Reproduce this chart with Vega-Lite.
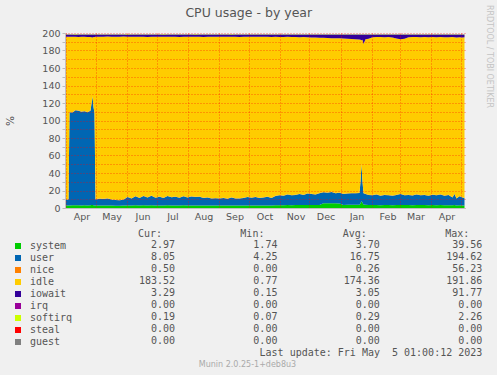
{
"$schema": "https://vega.github.io/schema/vega-lite/v6.json",
"background": "#f0f0f0",
"padding": {"left": 5, "top": 5, "right": 5, "bottom": 6},
"title": {"text": "CPU usage - by year", "font": "DejaVu Sans", "fontSize": 12.5, "fontWeight": "normal", "color": "#555555", "anchor": "middle", "offset": -14},
"config": {"view": {"stroke": null}, "font": "DejaVu Sans"},
"bounds": "flush",
"spacing": 37,
"resolve": {"legend": {"color": "independent"}},
"datasets": {
"cpu": [
{"date":"2022-04-01","system":2.8,"user":6.5,"nice":0.25,"idle":186.25,"iowait":2.5,"softirq":0.3},
{"date":"2022-04-03","system":2.8,"user":7.0,"nice":0.25,"idle":185.75,"iowait":2.5,"softirq":0.3},
{"date":"2022-04-04","system":2.9,"user":6.8,"nice":0.25,"idle":185.75,"iowait":2.6,"softirq":0.3},
{"date":"2022-04-05","system":3.0,"user":106.5,"nice":0.25,"idle":85.95,"iowait":2.6,"softirq":0.3},
{"date":"2022-04-08","system":3.1,"user":106.0,"nice":0.25,"idle":86.25,"iowait":2.7,"softirq":0.3},
{"date":"2022-04-11","system":3.2,"user":108.5,"nice":0.25,"idle":83.75,"iowait":2.6,"softirq":0.5},
{"date":"2022-04-14","system":3.1,"user":108.0,"nice":0.25,"idle":84.15,"iowait":2.8,"softirq":0.3},
{"date":"2022-04-17","system":3.0,"user":107.0,"nice":0.25,"idle":85.45,"iowait":2.6,"softirq":0.3},
{"date":"2022-04-20","system":3.1,"user":107.5,"nice":0.25,"idle":84.75,"iowait":2.7,"softirq":0.3},
{"date":"2022-04-23","system":3.0,"user":106.5,"nice":0.25,"idle":85.65,"iowait":2.9,"softirq":0.3},
{"date":"2022-04-26","system":3.2,"user":108.0,"nice":0.25,"idle":83.85,"iowait":3.0,"softirq":0.3},
{"date":"2022-04-27","system":3.3,"user":116.0,"nice":0.25,"idle":75.55,"iowait":3.2,"softirq":0.3},
{"date":"2022-04-28","system":3.4,"user":124.0,"nice":0.25,"idle":67.25,"iowait":3.4,"softirq":0.3},
{"date":"2022-04-29","system":3.2,"user":112.0,"nice":0.25,"idle":79.85,"iowait":3.0,"softirq":0.3},
{"date":"2022-04-30","system":3.0,"user":106.0,"nice":0.25,"idle":86.25,"iowait":2.8,"softirq":0.3},
{"date":"2022-05-01","system":2.8,"user":7.0,"nice":0.25,"idle":185.65,"iowait":2.6,"softirq":0.3},
{"date":"2022-05-05","system":2.9,"user":7.6,"nice":0.25,"idle":185.05,"iowait":2.5,"softirq":0.3},
{"date":"2022-05-09","system":2.8,"user":7.4,"nice":0.25,"idle":185.25,"iowait":2.6,"softirq":0.3},
{"date":"2022-05-13","system":3.0,"user":7.8,"nice":0.25,"idle":184.85,"iowait":2.4,"softirq":0.3},
{"date":"2022-05-17","system":2.8,"user":6.8,"nice":0.25,"idle":185.75,"iowait":2.7,"softirq":0.3},
{"date":"2022-05-21","system":2.7,"user":6.5,"nice":0.25,"idle":186.35,"iowait":2.5,"softirq":0.3},
{"date":"2022-05-25","system":2.7,"user":6.1,"nice":0.25,"idle":186.65,"iowait":2.6,"softirq":0.3},
{"date":"2022-05-29","system":2.8,"user":6.7,"nice":0.25,"idle":186.15,"iowait":2.4,"softirq":0.3},
{"date":"2022-06-02","system":3.0,"user":9.5,"nice":0.25,"idle":182.95,"iowait":2.6,"softirq":0.5},
{"date":"2022-06-06","system":2.9,"user":8.1,"nice":0.25,"idle":184.55,"iowait":2.5,"softirq":0.3},
{"date":"2022-06-10","system":3.1,"user":10.4,"nice":0.25,"idle":181.85,"iowait":2.7,"softirq":0.3},
{"date":"2022-06-14","system":2.9,"user":8.6,"nice":0.25,"idle":184.05,"iowait":2.5,"softirq":0.3},
{"date":"2022-06-18","system":3.1,"user":10.7,"nice":0.25,"idle":181.65,"iowait":2.6,"softirq":0.3},
{"date":"2022-06-22","system":3.0,"user":9.0,"nice":0.25,"idle":183.25,"iowait":2.8,"softirq":0.3},
{"date":"2022-06-26","system":3.2,"user":10.8,"nice":0.25,"idle":181.45,"iowait":2.6,"softirq":0.3},
{"date":"2022-06-30","system":3.0,"user":8.8,"nice":0.25,"idle":183.75,"iowait":2.5,"softirq":0.3},
{"date":"2022-07-04","system":3.0,"user":10.0,"nice":0.25,"idle":182.35,"iowait":2.7,"softirq":0.3},
{"date":"2022-07-08","system":2.9,"user":8.6,"nice":0.25,"idle":183.95,"iowait":2.6,"softirq":0.5},
{"date":"2022-07-12","system":3.1,"user":10.5,"nice":0.25,"idle":181.95,"iowait":2.5,"softirq":0.3},
{"date":"2022-07-16","system":3.0,"user":9.2,"nice":0.25,"idle":183.15,"iowait":2.7,"softirq":0.3},
{"date":"2022-07-20","system":3.0,"user":10.0,"nice":0.25,"idle":182.45,"iowait":2.6,"softirq":0.3},
{"date":"2022-07-24","system":2.9,"user":8.9,"nice":0.25,"idle":183.45,"iowait":2.8,"softirq":0.3},
{"date":"2022-07-28","system":3.1,"user":10.3,"nice":0.25,"idle":182.15,"iowait":2.5,"softirq":0.3},
{"date":"2022-08-01","system":3.0,"user":9.0,"nice":0.25,"idle":183.45,"iowait":2.6,"softirq":0.3},
{"date":"2022-08-05","system":3.0,"user":10.2,"nice":0.25,"idle":182.15,"iowait":2.7,"softirq":0.3},
{"date":"2022-08-09","system":3.0,"user":9.5,"nice":0.25,"idle":183.05,"iowait":2.5,"softirq":0.5},
{"date":"2022-08-13","system":3.0,"user":10.0,"nice":0.25,"idle":182.45,"iowait":2.6,"softirq":0.3},
{"date":"2022-08-17","system":2.9,"user":8.6,"nice":0.25,"idle":183.75,"iowait":2.8,"softirq":0.3},
{"date":"2022-08-21","system":2.9,"user":9.1,"nice":0.25,"idle":183.55,"iowait":2.5,"softirq":0.3},
{"date":"2022-08-25","system":2.8,"user":8.2,"nice":0.25,"idle":184.45,"iowait":2.6,"softirq":0.3},
{"date":"2022-08-29","system":2.8,"user":8.4,"nice":0.25,"idle":184.15,"iowait":2.7,"softirq":0.3},
{"date":"2022-09-02","system":2.8,"user":8.0,"nice":0.25,"idle":184.75,"iowait":2.5,"softirq":0.3},
{"date":"2022-09-06","system":2.9,"user":8.6,"nice":0.25,"idle":183.95,"iowait":2.6,"softirq":0.3},
{"date":"2022-09-10","system":2.8,"user":7.7,"nice":0.25,"idle":184.85,"iowait":2.7,"softirq":0.3},
{"date":"2022-09-14","system":2.9,"user":9.1,"nice":0.25,"idle":183.55,"iowait":2.5,"softirq":0.5},
{"date":"2022-09-18","system":2.8,"user":8.2,"nice":0.25,"idle":184.45,"iowait":2.6,"softirq":0.3},
{"date":"2022-09-22","system":2.8,"user":8.0,"nice":0.25,"idle":184.45,"iowait":2.8,"softirq":0.3},
{"date":"2022-09-26","system":2.9,"user":8.6,"nice":0.25,"idle":183.95,"iowait":2.6,"softirq":0.3},
{"date":"2022-09-30","system":3.0,"user":9.5,"nice":0.25,"idle":183.05,"iowait":2.5,"softirq":0.3},
{"date":"2022-10-04","system":2.9,"user":8.9,"nice":0.25,"idle":183.55,"iowait":2.7,"softirq":0.3},
{"date":"2022-10-08","system":3.0,"user":9.5,"nice":0.25,"idle":182.95,"iowait":2.6,"softirq":0.3},
{"date":"2022-10-12","system":2.9,"user":8.6,"nice":0.25,"idle":184.05,"iowait":2.5,"softirq":0.3},
{"date":"2022-10-16","system":2.9,"user":9.1,"nice":0.25,"idle":183.35,"iowait":2.7,"softirq":0.3},
{"date":"2022-10-20","system":3.0,"user":9.8,"nice":0.25,"idle":182.65,"iowait":2.6,"softirq":0.3},
{"date":"2022-10-24","system":2.9,"user":8.6,"nice":0.25,"idle":183.75,"iowait":2.8,"softirq":0.3},
{"date":"2022-10-28","system":3.1,"user":10.7,"nice":0.25,"idle":181.65,"iowait":2.6,"softirq":0.3},
{"date":"2022-11-01","system":3.2,"user":11.3,"nice":0.25,"idle":180.75,"iowait":2.8,"softirq":0.3},
{"date":"2022-11-05","system":3.2,"user":10.8,"nice":0.25,"idle":181.15,"iowait":2.9,"softirq":0.3},
{"date":"2022-11-09","system":3.3,"user":12.2,"nice":0.25,"idle":179.85,"iowait":2.7,"softirq":0.3},
{"date":"2022-11-13","system":3.2,"user":11.3,"nice":0.25,"idle":180.55,"iowait":3.0,"softirq":0.3},
{"date":"2022-11-17","system":3.3,"user":11.7,"nice":0.25,"idle":180.25,"iowait":2.8,"softirq":0.3},
{"date":"2022-11-21","system":3.4,"user":12.6,"nice":0.25,"idle":178.95,"iowait":3.1,"softirq":0.3},
{"date":"2022-11-25","system":3.3,"user":11.5,"nice":0.25,"idle":180.35,"iowait":2.9,"softirq":0.3},
{"date":"2022-11-29","system":3.5,"user":13.0,"nice":0.25,"idle":178.35,"iowait":3.2,"softirq":0.3},
{"date":"2022-12-03","system":3.4,"user":12.6,"nice":0.25,"idle":178.65,"iowait":3.4,"softirq":0.3},
{"date":"2022-12-07","system":3.3,"user":12.2,"nice":0.25,"idle":179.25,"iowait":3.3,"softirq":0.3},
{"date":"2022-12-11","system":3.5,"user":13.5,"nice":0.25,"idle":177.45,"iowait":3.6,"softirq":0.3},
{"date":"2022-12-15","system":5.3,"user":12.7,"nice":0.25,"idle":176.25,"iowait":3.8,"softirq":0.3},
{"date":"2022-12-19","system":5.5,"user":12.0,"nice":0.25,"idle":176.55,"iowait":4.0,"softirq":0.3},
{"date":"2022-12-23","system":5.4,"user":12.8,"nice":0.25,"idle":175.65,"iowait":4.2,"softirq":0.3},
{"date":"2022-12-27","system":5.3,"user":11.7,"nice":0.25,"idle":176.65,"iowait":4.4,"softirq":0.3},
{"date":"2022-12-31","system":5.2,"user":12.3,"nice":0.25,"idle":176.35,"iowait":4.2,"softirq":0.3},
{"date":"2023-01-04","system":3.5,"user":12.5,"nice":0.25,"idle":177.55,"iowait":4.5,"softirq":0.3},
{"date":"2023-01-08","system":3.6,"user":12.9,"nice":0.25,"idle":176.75,"iowait":4.8,"softirq":0.3},
{"date":"2023-01-12","system":3.7,"user":13.3,"nice":0.25,"idle":175.85,"iowait":5.2,"softirq":0.3},
{"date":"2023-01-16","system":3.6,"user":13.2,"nice":0.25,"idle":175.75,"iowait":5.5,"softirq":0.3},
{"date":"2023-01-20","system":3.8,"user":13.4,"nice":0.25,"idle":175.05,"iowait":5.8,"softirq":0.3},
{"date":"2023-01-21","system":5.5,"user":24.5,"nice":0.25,"idle":162.05,"iowait":6.0,"softirq":0.3},
{"date":"2023-01-22","system":8.0,"user":42.0,"nice":0.25,"idle":141.55,"iowait":6.5,"softirq":0.3},
{"date":"2023-01-23","system":6.0,"user":24.0,"nice":0.25,"idle":162.05,"iowait":6.0,"softirq":0.3},
{"date":"2023-01-24","system":4.0,"user":13.0,"nice":0.25,"idle":170.05,"iowait":11.0,"softirq":0.3},
{"date":"2023-01-26","system":3.6,"user":12.4,"nice":0.25,"idle":176.55,"iowait":5.5,"softirq":0.3},
{"date":"2023-01-29","system":3.4,"user":11.6,"nice":0.25,"idle":178.25,"iowait":4.8,"softirq":0.3},
{"date":"2023-02-02","system":3.3,"user":11.2,"nice":0.25,"idle":180.35,"iowait":3.2,"softirq":0.3},
{"date":"2023-02-06","system":3.4,"user":12.1,"nice":0.25,"idle":179.55,"iowait":3.0,"softirq":0.3},
{"date":"2023-02-10","system":3.2,"user":10.8,"nice":0.25,"idle":181.15,"iowait":2.9,"softirq":0.3},
{"date":"2023-02-14","system":3.3,"user":11.7,"nice":0.25,"idle":179.95,"iowait":3.1,"softirq":0.3},
{"date":"2023-02-18","system":3.3,"user":11.2,"nice":0.25,"idle":180.55,"iowait":3.0,"softirq":0.3},
{"date":"2023-02-22","system":3.2,"user":10.8,"nice":0.25,"idle":180.75,"iowait":3.3,"softirq":0.3},
{"date":"2023-02-26","system":3.3,"user":11.7,"nice":0.25,"idle":178.55,"iowait":4.5,"softirq":0.3},
{"date":"2023-03-02","system":3.4,"user":12.6,"nice":0.25,"idle":176.55,"iowait":5.5,"softirq":0.3},
{"date":"2023-03-06","system":3.3,"user":11.2,"nice":0.25,"idle":178.55,"iowait":5.0,"softirq":0.3},
{"date":"2023-03-10","system":3.3,"user":11.7,"nice":0.25,"idle":179.85,"iowait":3.2,"softirq":0.3},
{"date":"2023-03-14","system":3.2,"user":11.0,"nice":0.25,"idle":180.85,"iowait":3.0,"softirq":0.3},
{"date":"2023-03-18","system":3.4,"user":12.1,"nice":0.25,"idle":179.65,"iowait":2.9,"softirq":0.3},
{"date":"2023-03-22","system":3.3,"user":11.2,"nice":0.25,"idle":180.45,"iowait":3.1,"softirq":0.3},
{"date":"2023-03-26","system":3.3,"user":11.7,"nice":0.25,"idle":180.05,"iowait":3.0,"softirq":0.3},
{"date":"2023-03-30","system":3.2,"user":10.8,"nice":0.25,"idle":180.85,"iowait":3.2,"softirq":0.3},
{"date":"2023-04-03","system":3.3,"user":11.9,"nice":0.25,"idle":179.85,"iowait":3.0,"softirq":0.3},
{"date":"2023-04-07","system":3.2,"user":11.3,"nice":0.25,"idle":180.45,"iowait":3.1,"softirq":0.3},
{"date":"2023-04-11","system":3.3,"user":12.2,"nice":0.25,"idle":179.55,"iowait":3.0,"softirq":0.3},
{"date":"2023-04-15","system":3.2,"user":10.8,"nice":0.25,"idle":180.85,"iowait":3.2,"softirq":0.3},
{"date":"2023-04-19","system":3.2,"user":11.8,"nice":0.25,"idle":179.95,"iowait":3.1,"softirq":0.3},
{"date":"2023-04-23","system":3.1,"user":8.9,"nice":0.25,"idle":183.05,"iowait":3.0,"softirq":0.3},
{"date":"2023-04-25","system":3.3,"user":12.7,"nice":0.25,"idle":178.85,"iowait":3.2,"softirq":0.3},
{"date":"2023-04-27","system":3.0,"user":8.0,"nice":0.25,"idle":183.75,"iowait":3.3,"softirq":0.3},
{"date":"2023-04-30","system":3.1,"user":10.4,"nice":0.25,"idle":181.35,"iowait":3.2,"softirq":0.3},
{"date":"2023-05-03","system":3.0,"user":9.0,"nice":0.25,"idle":182.75,"iowait":3.3,"softirq":0.3},
{"date":"2023-05-05","system":2.97,"user":8.05,"nice":0.5,"idle":183.52,"iowait":3.29,"softirq":0.19}
],
"stats": [
{"name":"system","Cur":2.97,"Min":1.74,"Avg":3.70,"Max":39.56},
{"name":"user","Cur":8.05,"Min":4.25,"Avg":16.75,"Max":194.62},
{"name":"nice","Cur":0.50,"Min":0.00,"Avg":0.26,"Max":56.23},
{"name":"idle","Cur":183.52,"Min":0.77,"Avg":174.36,"Max":191.86},
{"name":"iowait","Cur":3.29,"Min":0.15,"Avg":3.05,"Max":91.77},
{"name":"irq","Cur":0.00,"Min":0.00,"Avg":0.00,"Max":0.00},
{"name":"softirq","Cur":0.19,"Min":0.07,"Avg":0.29,"Max":2.26},
{"name":"steal","Cur":0.00,"Min":0.00,"Avg":0.00,"Max":0.00},
{"name":"guest","Cur":0.00,"Min":0.00,"Avg":0.00,"Max":0.00}
],
"upd": [{"name":"lastupdate","text":"Last update: Fri May \u00a05 01:00:12 2023"}]
},
"vconcat": [
{
"width": 400, "height": 175,
"title": {"text": "RRDTOOL / TOBI OETIKER", "orient": "right", "anchor": "start", "frame": "group", "font": "DejaVu Sans", "fontSize": 8, "fontWeight": "normal", "color": "#c4c4c4", "offset": 8, "dx": -28},
"data": {"name": "cpu"},
"transform": [
{"fold": ["system","user","nice","idle","iowait","softirq"], "as": ["series","value"]},
{"calculate": "indexof(['system','user','nice','idle','iowait','softirq'], datum.series)", "as": "stackorder"}
],
"mark": {"type": "area", "interpolate": "linear"},
"encoding": {
"x": {"field": "date", "type": "temporal",
 "scale": {"type": "utc", "domain": [{"year":2022,"month":3,"date":31,"hours":12,"utc":true},{"year":2023,"month":5,"date":5,"hours":12,"utc":true}]},
 "axis": {"values": [
  {"year":2022,"month":4,"date":1,"utc":true},{"year":2022,"month":5,"date":1,"utc":true},{"year":2022,"month":6,"date":1,"utc":true},
  {"year":2022,"month":7,"date":1,"utc":true},{"year":2022,"month":8,"date":1,"utc":true},{"year":2022,"month":9,"date":1,"utc":true},
  {"year":2022,"month":10,"date":1,"utc":true},{"year":2022,"month":11,"date":1,"utc":true},{"year":2022,"month":12,"date":1,"utc":true},
  {"year":2023,"month":1,"date":1,"utc":true},{"year":2023,"month":2,"date":1,"utc":true},{"year":2023,"month":3,"date":1,"utc":true},
  {"year":2023,"month":4,"date":1,"utc":true},{"year":2023,"month":5,"date":1,"utc":true}],
  "labelExpr": "datum.value > 1682000000000 ? '' : utcFormat(datum.value, '%b')",
  "labelOffset": 16, "labelFont": "DejaVu Sans", "labelFontSize": 9.5, "labelColor": "#555555", "labelPadding": 3,
  "labelOverlap": false, "labelFlush": false, "labelBound": false, "ticks": false,
  "domainColor": "#c0c0c0", "grid": true, "gridColor": "#ff0000", "gridOpacity": 0.55, "gridDash": [1,2],
  "title": null, "zindex": 1}},
"y": {"field": "value", "type": "quantitative", "stack": "zero",
 "scale": {"domain": [0,200], "nice": false},
 "axis": {"values": [0,10,20,30,40,50,60,70,80,90,100,110,120,130,140,150,160,170,180,190,200],
  "labelExpr": "datum.value % 20 === 0 ? datum.label : ''",
  "labelFont": "DejaVu Sans", "labelFontSize": 9.5, "labelColor": "#555555", "labelPadding": 2,
  "tickSize": 3, "tickColor": "#bbbbbb", "domainColor": "#c0c0c0",
  "grid": true, "gridColor": "#ff0000", "gridOpacity": 0.55, "gridDash": [1,2],
  "title": "%", "titleFont": "DejaVu Sans", "titleFontSize": 10.5, "titleFontWeight": "normal", "titleColor": "#555555",
  "titleX": -55, "titleY": 87.5, "titleAngle": 270, "titleAlign": "center", "titleBaseline": "middle", "zindex": 1}},
"color": {"field": "series", "type": "nominal",
 "scale": {"domain": ["system","user","nice","idle","iowait","irq","softirq","steal","guest"],
  "range": ["#00cc00","#0066b3","#ff8000","#ffcc00","#330099","#990099","#ccff00","#ff0000","#808080"]},
 "legend": {"title": null, "orient": "none", "legendX": -52, "legendY": 208, "symbolType": "square", "symbolSize": 36,
  "symbolStrokeWidth": 0, "symbolOpacity": 1, "labelFont": "DejaVu Sans Mono", "labelFontSize": 10, "labelColor": "#555555",
  "rowPadding": 2, "labelOffset": 7, "padding": 0}},
"order": {"field": "stackorder", "type": "quantitative"}
}
},
{
"width": 365, "height": 108,
"title": {"text": "Munin 2.0.25-1+deb8u3", "orient": "bottom", "anchor": "middle", "frame": "group", "font": "DejaVu Sans", "fontSize": 8, "fontWeight": "normal", "color": "#aaaaaa", "offset": 3},
"layer": [
{"data": {"name": "stats"},
 "transform": [{"fold": ["Cur","Min","Avg","Max"], "as": ["stat","val"]}],
 "mark": {"type": "text", "align": "right", "baseline": "middle", "font": "DejaVu Sans Mono", "fontSize": 10, "color": "#555555"},
 "encoding": {
  "x": {"field": "stat", "type": "nominal", "scale": {"type": "point", "domain": ["Cur","Min","Avg","Max"], "range": [110, 417.3], "padding": 0},
   "axis": {"orient": "top", "labelExpr": "datum.value + ':'", "labelAlign": "right", "labelOffset": -13.5, "labelAngle": 0,
    "labelFont": "DejaVu Sans Mono", "labelFontSize": 10, "labelColor": "#555555", "labelBaseline": "middle", "labelPadding": 12,
    "ticks": false, "domain": false, "grid": false, "title": null}},
  "y": {"field": "name", "type": "nominal", "scale": {"type": "point", "domain": ["system","user","nice","idle","iowait","irq","softirq","steal","guest","lastupdate"], "padding": 0}, "axis": null},
  "text": {"field": "val", "type": "quantitative", "format": ".2f"}
 }},
{"data": {"name": "upd"},
 "mark": {"type": "text", "align": "right", "baseline": "middle", "font": "DejaVu Sans Mono", "fontSize": 10, "color": "#555555"},
 "encoding": {
  "x": {"datum": "Max", "type": "nominal"},
  "y": {"field": "name", "type": "nominal"},
  "text": {"field": "text", "type": "nominal"}
 }}
]
}
]
}
